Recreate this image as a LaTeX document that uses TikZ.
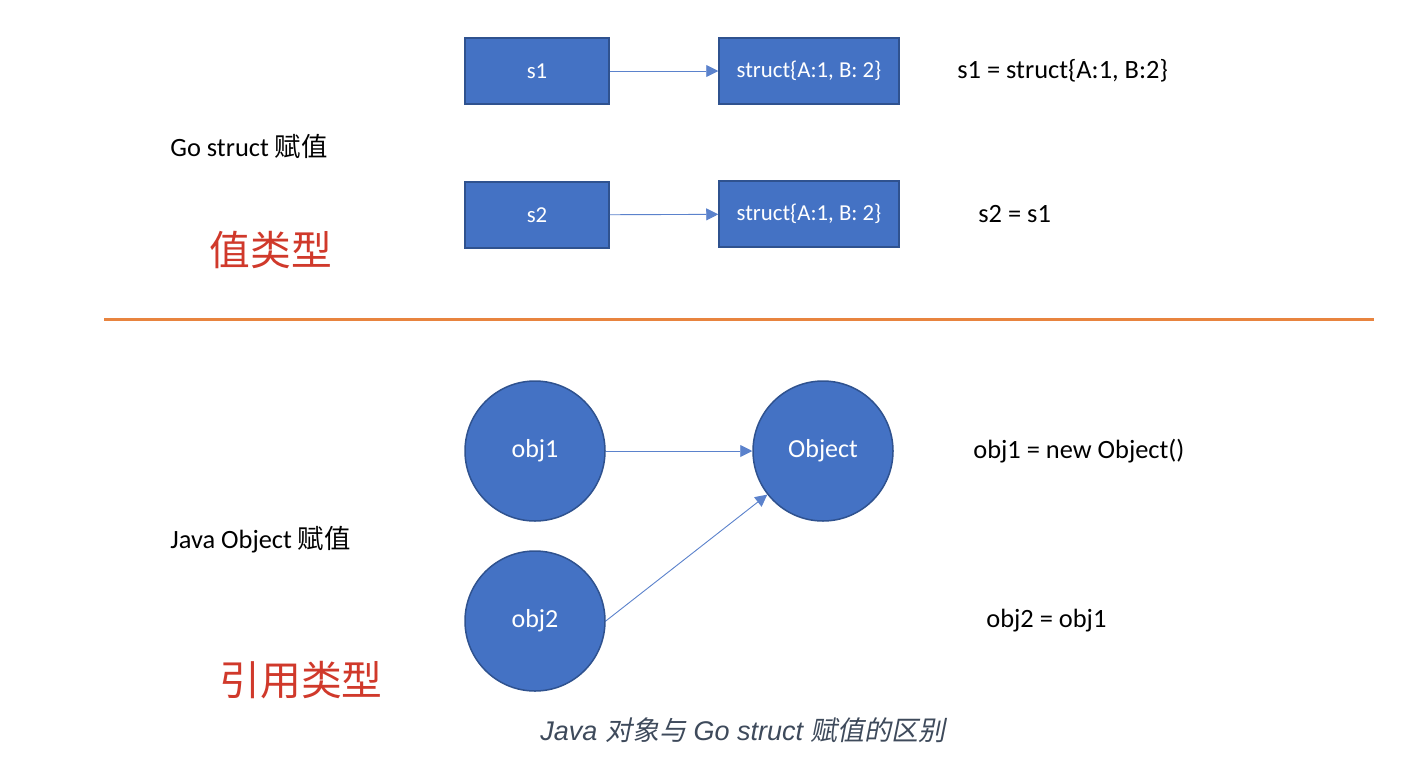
\documentclass[tikz,border=0pt]{standalone}
\usepackage{fontspec}
\setmainfont{Carlito}
\newfontfamily\cjk{Noto Sans CJK SC}
\newfontfamily\capfont{Liberation Sans}
\newfontfamily\capcjk{Noto Sans CJK SC}[FakeSlant=0.2]
\usetikzlibrary{arrows.meta}
\definecolor{boxblue}{HTML}{4472C4}
\definecolor{boxedge}{HTML}{2F528F}
\definecolor{linkblue}{HTML}{5B82CC}
\definecolor{sepor}{HTML}{E8843F}
\definecolor{redtxt}{HTML}{D0392B}
\definecolor{captxt}{HTML}{3E4A5B}
\begin{document}
\begin{tikzpicture}[x=0.5pt,y=-0.5pt,
  box/.style={draw=boxedge, fill=boxblue, line width=0.75pt, minimum width=72pt, minimum height=33pt, inner sep=0pt, text=white, font=\fontsize{11.4}{13}\selectfont},
  widebox/.style={box, minimum width=90pt},
  circ/.style={circle, draw=boxedge, fill=boxblue, line width=0.75pt, minimum size=70pt, inner sep=0pt, text=white, font=\fontsize{13}{15}\selectfont},
  conn/.style={draw=linkblue, line width=0.45pt, -{Triangle[length=6pt,width=6pt]}},
  lbl/.style={anchor=west, inner sep=0pt, font=\fontsize{13.2}{15}\selectfont},
  big/.style={anchor=west, inner sep=0pt, text=redtxt, font=\cjk\fontsize{20.4}{23}\selectfont}
]
\useasboundingbox[fill=white] (0,0) rectangle (1418,756);

% Go struct part
\node[box] (s1) at (537,71) {s1};
\node[widebox] (st1) at (809,71) {struct\{A:1, B: 2\}};
\node[box] (s2) at (537,215) {s2};
\node[widebox] (st2) at (809,214) {struct\{A:1, B: 2\}};
\draw[conn] (s1) -- (st1);
\draw[conn] (s2) -- (st2);
\node[lbl] (t1) at (957,71) {s1 = struct\{A:1, B:2\}};
\node[lbl] (t2) at (978,214) {s2 = s1};
\node[lbl] (go) at (170,146) {Go struct {\cjk 赋值}};
\node[big] (vt) at (209,250) {值类型};

% separator
\coordinate (sepL) at (104,319);
\coordinate (sepR) at (1374,319);
\draw[sepor, line width=1.5pt] (sepL) -- (sepR);

% Java part
\node[circ] (o1) at (535,451) {obj1};
\node[circ] (obj) at (823,451) {Object};
\node[circ] (o2) at (535,621) {obj2};
\draw[conn] (o1) -- (obj);
\draw[conn] (o2.east) -- (obj);
\node[lbl] (t3) at (973,451) {obj1 = new Object()};
\node[lbl] (t4) at (986,621) {obj2 = obj1};
\node[lbl] (jv) at (170,540) {Java Object {\cjk 赋值}};
\node[big] (rt) at (219,680) {引用类型};

% caption
\node[inner sep=0pt, text=captxt, font=\fontsize{13.5}{16}\selectfont] (cap) at (743,730)
  {{\capfont\itshape Java }{\capcjk 对象与}{\capfont\itshape\ Go struct }{\capcjk 赋值的区别}};
\end{tikzpicture}
\end{document}
